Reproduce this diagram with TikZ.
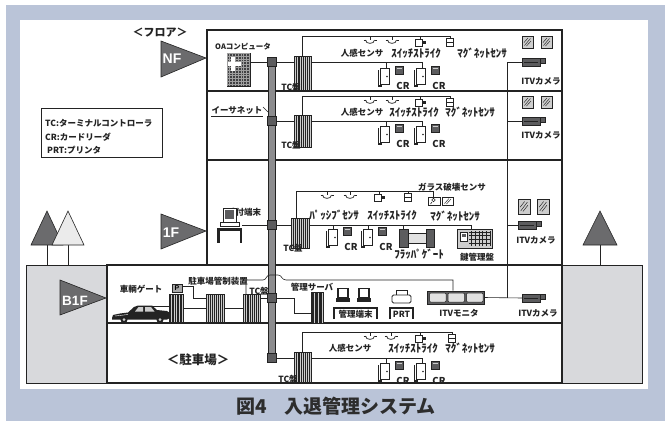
\documentclass[tikz,border=0pt]{standalone}
\usepackage{fontspec}
\setmainfont{Liberation Sans}
\newfontfamily\jp{Noto Sans CJK JP}
\usetikzlibrary{calc}

\definecolor{frameblue}{RGB}{186,196,216}
\definecolor{groundgray}{RGB}{216,217,220}
\definecolor{trigray}{RGB}{107,107,109}
\definecolor{ink}{RGB}{35,35,35}
\definecolor{bargray}{RGB}{140,140,142}
\definecolor{boxgray}{RGB}{92,92,94}
\definecolor{panelgray}{RGB}{205,205,205}
\definecolor{capgray}{RGB}{45,45,45}

\tikzset{
  lbl/.style={font=\jp\bfseries\fontsize{8.5}{9}\selectfont, inner sep=0pt, text=ink},
  halflbl/.style={font=\jp\bfseries\fontsize{11}{11}\selectfont, inner sep=0pt, text=ink},
  smalllbl/.style={font=\jp\bfseries\fontsize{7.5}{8}\selectfont, inner sep=0pt, text=ink},
  crtxt/.style={font=\jp\bfseries\fontsize{9.5}{10}\selectfont, inner sep=0pt, text=ink},
  floortxt/.style={font=\bfseries\fontsize{14}{14}\selectfont, inner sep=0pt, text=white},
  wire/.style={draw=ink, line width=0.6pt},
  wall/.style={draw=ink, line width=1.2pt},
  junction/.style={draw=ink, fill=boxgray, minimum size=8.5pt, inner sep=0pt, line width=0.6pt},
  stripebox/.style={draw=ink, fill=panelgray, line width=0.6pt, inner sep=0pt,
    minimum width=17pt, minimum height=32pt,
    path picture={
      \coordinate (sbA) at (path picture bounding box.south west);
      \coordinate (sbB) at (path picture bounding box.north east);
      \foreach \k in {1,...,8}
        \draw[ink, line width=0.55pt] ($(sbA)!\k/9!(sbA-|sbB)$) -- ($(sbB-|sbA)!\k/9!(sbB)$);
    }},
  tri/.style={fill=trigray, draw=ink, line width=0.6pt},
  ceilsens/.pic={
    \draw[ink, line width=0.7pt] (0,0) -- (0,4) (-6.5,4) -- (6.5,4);
    \draw[ink, line width=0.7pt, fill=white] (-4.5,4) .. controls (-4.5,8.5) and (4.5,8.5) .. (4.5,4);
  },
  strikesens/.pic={
    \draw[ink, line width=0.7pt] (0,0) -- (0,3);
    \draw[ink, line width=0.7pt, fill=white] (-4.5,3) rectangle (2.5,10);
    \fill[ink] (2.5,5) rectangle (6,8);
  },
  magsens/.pic={
    \draw[ink, line width=0.7pt] (0,0) -- (0,2);
    \draw[ink, line width=0.7pt, fill=white] (-3.5,2) rectangle (3.5,10);
    \draw[ink, line width=0.7pt] (-3.5,6) -- (3.5,6);
  },
  doorcr/.pic={
    \draw[ink, line width=1.1pt] (-1.5,2) -- (-1.5,18) -- (2,18);
    \draw[ink, line width=0.6pt, fill=white] (0,0) rectangle (9,16);
    \fill[ink] (7,8.5) circle[radius=0.9pt];
    \draw[ink, line width=0.6pt, fill=boxgray] (15,-2) rectangle (23,6);
    \draw[panelgray, line width=0.7pt] (16.5,0.5) -- (21.5,0.5);
    \node[crtxt] at (23,18) {CR};
  },
  itvcam/.pic={
    \draw[ink, line width=0.6pt, fill=boxgray] (0,-4) rectangle (18,4);
    \draw[ink, line width=0.9pt] (2,0.5) -- (16,0.5);
    \draw[ink, line width=0.6pt, fill=boxgray] (18,-3.5) rectangle (23,1.5);
  },
  winpane/.pic={
    \draw[ink, line width=1pt, fill=panelgray] (0,0) rectangle (11,12);
    \draw[ink, line width=0.45pt] (2.5,9.5) -- (8.5,2.5) (4.5,10) -- (9,5) (2,6.5) -- (6,2);
  },
}

\begin{document}
\begin{tikzpicture}[x=1pt, y=-1pt]
\useasboundingbox (0,0) rectangle (665,421);

% frame and inner sheet
\fill[frameblue] (6,5) rectangle (665,421);
\fill[white] (20,20) rectangle (648,389);

% ground with trees
\draw[fill=groundgray, draw=ink, line width=1pt] (26,265) rectangle (642,383);
\draw[ink, line width=0.8pt] (47,245) -- (47,265) (68,245) -- (68,265) (600,245) -- (600,265);
\draw[tri] (31,245) -- (47,211) -- (63,245) -- cycle;
\draw[fill=white!92!black, draw=ink, line width=0.6pt] (52,245) -- (68,211) -- (84,245) -- cycle;
\draw[tri] (583,245) -- (600,211) -- (617,245) -- cycle;

% building
\draw[wall, fill=white] (207,30) rectangle (562,265);
\draw[wall, fill=white] (107,265) rectangle (562,383);
\draw[wall] (207,91) -- (562,91) (207,160) -- (562,160) (107,323) -- (562,323);
\draw[ink, line width=1.8pt] (107,265) -- (562,265);

% floor markers
\node[font=\jp\bfseries\fontsize{11}{11}\selectfont, text=ink] (floorhdr) at (160,33) {＜フロア＞};
\draw[tri] (161,41) -- (206,58) -- (161,77) -- cycle;
\node[floortxt] (nf) at (172,59) {NF};
\draw[tri] (161,214) -- (206,231) -- (161,249) -- cycle;
\node[floortxt] (f1) at (171,233) {1F};
\draw[tri] (60,280) -- (106,298) -- (60,315) -- cycle;
\node[floortxt, font=\bfseries\fontsize{13.5}{14}\selectfont] (b1f) at (75,301) {B1F};

% legend
\node[draw=ink, line width=0.8pt, minimum width=121pt, minimum height=49pt, inner sep=0pt] (legend) at (101.5,132.5) {};
\node[lbl, anchor=west] (lg1) at (45,123) {TC:ターミナルコントローラ};
\node[lbl, anchor=west] (lg2) at (45,137) {CR:カードリーダ};
\node[lbl, anchor=west] (lg3) at (47,150) {PRT:プリンタ};

% camera riser
\coordinate (cv1) at (507,62);
\coordinate (cv2) at (507,121);
\coordinate (cv3) at (507,225);
\coordinate (cv4) at (507,298);
\draw[wire] (cv1) -- (cv4);

% ethernet backbone
\node[draw=ink, fill=bargray, line width=0.7pt, minimum width=7pt, minimum height=304pt, inner sep=0pt] (bb) at (272,210) {};
\node[lbl] (eth) at (237,110) {イーサネット};
\draw[ink, line width=0.7pt] ([yshift=-1.8pt]eth.south west) -- ([yshift=-1.8pt]eth.south east);
\coordinate (tickA) at (263,107);
\coordinate (tickB) at (268,112);
\draw[wire] (tickA) -- (tickB);

\node[junction] (jN) at (272,62) {};
\node[junction] (j2) at (272,121) {};
\node[junction] (j1) at (272,225) {};
\node[junction] (jB) at (272,298) {};
\node[junction] (jP) at (272,358) {};

% ---------- NF ----------
\node[smalllbl, anchor=west] (oalbl) at (215,47) {OAコンピュータ};
\node[draw=ink, fill=boxgray!70!black, minimum width=23pt, minimum height=33pt, inner sep=0pt] (oa) at (238.5,69.5) {};
\draw[gray!75, line width=0.35pt, step=2.8pt] (oa.south west) grid (oa.north east);
\fill[white] (231,57) rectangle (235,71);
\fill[white] (228,62) rectangle (241,66);
\node[stripebox, minimum height=34pt] (tcN) at (302.5,73) {};
\draw[wire] (oa.east |- jN) -- (jN.west);
\draw[wire] (jN.east) -- (tcN.west |- jN);
\coordinate (dN1) at (386,68);
\coordinate (dN2) at (422,68);
\draw[wire] (tcN.east |- jN) -- (dN2 |- jN) -- (dN2);
\draw[wire] (dN1 |- jN) -- (dN1);
\coordinate (sN) at (450,36);
\draw[wire] (tcN.north) |- (sN);
\pic at (370,36) {ceilsens};
\pic at (392,36) {ceilsens};
\pic at (420,36) {strikesens};
\pic at (sN) {magsens};
\node[lbl] at (362,53) {人感センサ};
\node[halflbl] at (416,53) {ｽｲｯﾁｽﾄﾗｲｸ};
\node[halflbl] at (482,53) {ﾏｸﾞﾈｯﾄｾﾝｻ};
\pic at (380,68) {doorcr};
\pic at (416,68) {doorcr};
\node[lbl] (tcNl) at (291,87) {TC盤};
\pic at (522,36) {winpane};
\pic at (541,36) {winpane};
\coordinate (camN) at (522,62);
\draw[wire] (cv1) -- (camN);
\pic at (camN) {itvcam};
\node[lbl] at (541,81) {ITVカメラ};

% ---------- 2F ----------
\node[stripebox] (tc2) at (302.5,131) {};
\draw[wire] (j2.east) -- (tc2.west |- j2);
\coordinate (d21) at (386,126);
\coordinate (d22) at (422,126);
\draw[wire] (tc2.east |- j2) -- (d22 |- j2) -- (d22);
\draw[wire] (d21 |- j2) -- (d21);
\coordinate (s2) at (450,96);
\draw[wire] (tc2.north) |- (s2);
\pic at (370,96) {ceilsens};
\pic at (392,96) {ceilsens};
\pic at (420,96) {strikesens};
\pic at (s2) {magsens};
\node[lbl] at (362,112) {人感センサ};
\node[halflbl] at (414,112) {ｽｲｯﾁｽﾄﾗｲｸ};
\node[halflbl] at (470,112) {ﾏｸﾞﾈｯﾄｾﾝｻ};
\pic at (380,126) {doorcr};
\pic at (416,126) {doorcr};
\node[lbl] (tc2l) at (291,145) {TC盤};
\pic at (522,96) {winpane};
\pic at (541,96) {winpane};
\coordinate (cam2) at (522,121);
\draw[wire] (cv2) -- (cam2);
\pic at (cam2) {itvcam};
\node[lbl] at (541,135) {ITVカメラ};

% ---------- 1F ----------
\node[lbl] (rcpl) at (244,212) {受付端末};
\draw[ink, line width=0.6pt, fill=white] (223,208) rectangle (236,222);
\fill[boxgray] (225,210) rectangle (234,219);
\draw[ink, line width=0.6pt, fill=white] (220,222) rectangle (239,226);
\coordinate (rcp) at (242,225);
\fill[ink] (217,227.5) rectangle (242,230.5);
\fill[ink] (217,227.5) rectangle (219.5,243);
\fill[ink] (239.5,227.5) rectangle (242,243);
\node[stripebox, minimum width=18pt, minimum height=30pt] (tc1) at (300,233) {};
\draw[wire] (rcp) -- (j1.west);
\draw[wire] (j1.east) -- (tc1.west |- j1);
\coordinate (d11) at (333,229);
\coordinate (d12) at (368,229);
\coordinate (flap) at (403,229);
\coordinate (keyp) at (471,229);
\draw[wire] (tc1.east |- j1) -- (keyp |- j1) -- (keyp);
\draw[wire] (d11 |- j1) -- (d11) (d12 |- j1) -- (d12) (flap |- j1) -- (flap);
\coordinate (glass) at (433,197);
\draw[wire] ([xshift=-4pt]tc1.north) |- (glass |- 0,191) -- (glass);
\pic at (327,191) {ceilsens};
\pic at (350,191) {ceilsens};
\pic at (379,191) {strikesens};
\pic at (408,191) {magsens};
\node[halflbl] at (334,215) {ﾊﾟｯｼﾌﾞｾﾝｻ};
\node[halflbl] at (392,215) {ｽｲｯﾁｽﾄﾗｲｸ};
\node[halflbl] at (455,216) {ﾏｸﾞﾈｯﾄｾﾝｻ};
\node[lbl] at (452,187) {ガラス破壊センサ};
% glass break sensor
\draw[ink, line width=1pt, fill=white] (428,197) rectangle (440,205);
\draw[ink, line width=1pt, fill=white] (442,197) rectangle (453,205);
\draw[ink, line width=0.6pt] (433.5,200) circle[radius=1.8pt] (432,202) -- (430.5,204);
\draw[ink, line width=0.45pt] (444.5,203.5) -- (449,198.5) (446.5,204) -- (451,199);
\pic at (328,229) {doorcr};
\pic at (363,229) {doorcr};
% flapper gate
\draw[ink, line width=0.6pt, fill=boxgray] (399,229) rectangle (408,247);
\draw[ink, line width=0.6pt, fill=panelgray!60] (408,233) rectangle (426,243);
\draw[ink, line width=0.6pt, fill=boxgray] (426,229) rectangle (434,247);
\node[halflbl] at (419,254) {ﾌﾗｯﾊﾟｹﾞｰﾄ};
% key cabinet
\draw[ink, line width=0.6pt, fill=panelgray] (457,229) rectangle (492,248);
\draw[ink, line width=0.6pt, fill=white] (460,232) rectangle (467,241);
\fill[boxgray] (461.5,233.5) rectangle (465.5,236.5);
\draw[ink, line width=0.45pt] (469,231) grid[step=3.8pt] (491,246);
\node[lbl] at (477,257) {鍵管理盤};
\node[lbl] (tc1l) at (293,248) {TC盤};
\pic at (518,199) [xscale=1.1, yscale=1.25] {winpane};
\pic at (537,199) [xscale=1.1, yscale=1.25] {winpane};
\coordinate (cam1) at (518,225);
\draw[wire] (cv3) -- (cam1);
\pic at (cam1) {itvcam};
\node[lbl] at (536,240) {ITVカメラ};

% ---------- B1F ----------
\node[lbl] at (141,289) {車輌ゲート};
\node[lbl] at (218,281) {駐車場管制装置};
\node[lbl] at (312,287) {管理サーバ};
\node[draw=ink, fill=gray!70, minimum width=10pt, minimum height=8pt, inner sep=0pt,
      font=\bfseries\fontsize{7}{7}\selectfont] (pbox) at (177,288) {P};
\node[stripebox, minimum width=14pt, minimum height=28pt] (gate) at (176,308) {};
\node[stripebox, minimum width=18pt, minimum height=28pt] (ctl) at (215,308) {};
\node[stripebox, minimum width=17pt, minimum height=28pt] (tcB) at (251.5,308) {};
\node[stripebox, minimum width=12pt, minimum height=31pt] (srv) at (317,307.5) {};
% car
\begin{scope}[shift={(112,305)}]
  \fill[ink] (0,13) -- (1,10) -- (8,8.5) -- (16,7.5) -- (22,2) -- (26,0.5) -- (40,0.5) -- (45,5)
    -- (55,6) -- (58,8) -- (58,13) -- (55,14.5) -- (0,14.5) -- cycle;
  \fill[panelgray] (23,6.5) -- (26.5,2) -- (31,2) -- (31,6.5) -- cycle;
  \fill[panelgray] (33,2) -- (39,2) -- (42.5,6.5) -- (33,6.5) -- cycle;
  \draw[white, line width=0.4pt] (3,11) -- (16,9.5);
  \fill[ink] (12,14.5) circle[radius=3.6pt] (48,14.5) circle[radius=3.6pt];
  \fill[panelgray] (12,14.5) circle[radius=1.5pt] (48,14.5) circle[radius=1.5pt];
\end{scope}
\coordinate (car) at (150,306);
\draw[wire] (car) -- (car -| gate.west);
\coordinate (pk) at (193,286);
\draw[wire] (pbox.east |- pk) -- (pk) |- (ctl.west |- 0,298);
\draw[wire] (gate.east) -- (ctl.west);
\draw[wire] (ctl.east) -- (tcB.west);
\draw[wire] (tcB.east |- jB) -- (jB.west);
\draw[wire] (jB.east) -- ++(18,0) |- ([yshift=-5.5pt]srv.west);
\node[lbl] (tcBl) at (259,291) {TC盤};
% laptops
\foreach \lx in {336,357} {
  \draw[ink, line width=1.1pt, fill=white] (\lx+2,288.5) rectangle (\lx+12,297.5);
  \fill[ink] (\lx,298) rectangle (\lx+14,302);
}
\draw[ink, line width=2.2pt] (334,319) -- (334,308) -- (377,308) -- (377,319);
\node[lbl] (mgt) at (355.5,314) {管理端末};
% printer
\draw[ink, line width=0.7pt, fill=white] (396,290) rectangle (407,296);
\draw[ink, line width=0.8pt, fill=white, rounded corners=1.5pt] (392,295) rectangle (411,303);
\draw[ink, line width=2.2pt] (390,319) -- (390,308) -- (413,308) -- (413,319);
\node[lbl] (prt) at (401.5,314) {PRT};
% ITV monitors
\node[draw=ink, fill=boxgray, line width=0.6pt, minimum width=57pt, minimum height=13pt, inner sep=0pt] (mon) at (455.5,297.5) {};
\foreach \mx in {429.5,448,466.5}
  \draw[ink, line width=0.5pt, fill=white!88!black, rounded corners=1pt] (\mx,293) rectangle (\mx+16.5,302);
\node[lbl] at (459,313) {ITVモニタ};
\coordinate (tcBup) at (246,294);
\draw[wire] (tcBup) -- (246,280) -- (263,280) .. controls (266.5,280) and (266,275) .. (270,275)
  -- (278,275) .. controls (282,275) and (281.5,280) .. (286,280) -| (mon.north -| 453,0);
\coordinate (camB) at (522,298);
\draw[wire] (mon.east) -- (camB);
\pic at (camB) {itvcam};
\node[lbl] at (538,313) {ITVカメラ};

% ---------- parking ----------
\node[font=\jp\bfseries\fontsize{12.5}{13}\selectfont, text=ink, inner sep=0pt] (parkhdr) at (198,360) {＜駐車場＞};
\node[stripebox, minimum height=30pt] (tcP) at (302.5,367) {};
\draw[wire] (jP.east) -- (tcP.west |- jP);
\coordinate (dP1) at (386,363);
\coordinate (dP2) at (422,363);
\draw[wire] (tcP.east |- jP) -- (dP2 |- jP) -- (dP2);
\draw[wire] (dP1 |- jP) -- (dP1);
\coordinate (sP) at (452,332);
\draw[wire] (tcP.north) |- (sP);
\pic at (370,332) {ceilsens};
\pic at (391,332) {ceilsens};
\pic at (420,332) {strikesens};
\pic at (sP) {magsens};
\node[lbl] at (350,348) {人感センサ};
\node[halflbl] at (413,348) {ｽｲｯﾁｽﾄﾗｲｸ};
\node[halflbl] at (470,348) {ﾏｸﾞﾈｯﾄｾﾝｻ};
\pic at (380,363) {doorcr};
\pic at (416,363) {doorcr};
\node[lbl] (tcPl) at (288,379) {TC盤};
\draw[ink, line width=1.2pt] (107,383) -- (562,383);

% caption
\node[font=\jp\bfseries\fontsize{19}{19}\selectfont, text=capgray, inner sep=0pt] (caption) at (336,406) {図4\hspace{0.9em}入退管理システム};
\end{tikzpicture}
\end{document}
